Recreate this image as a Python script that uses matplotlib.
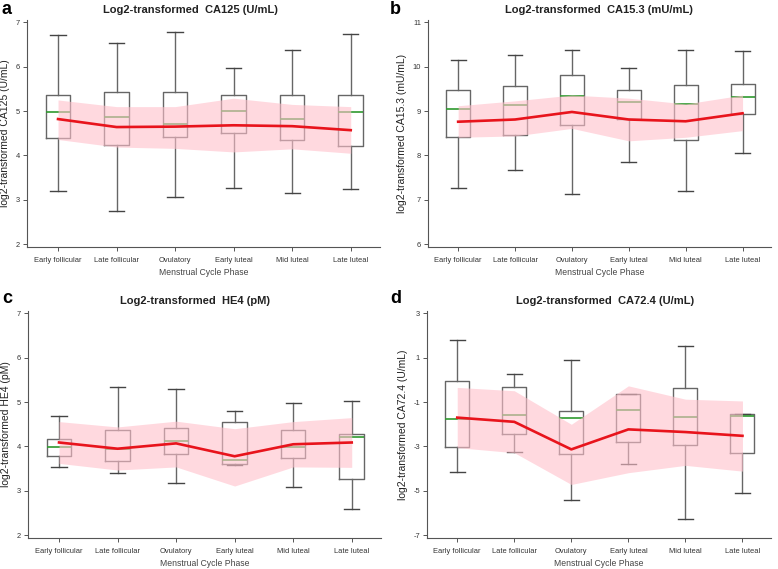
import matplotlib
matplotlib.use("Agg")
import matplotlib.pyplot as plt

plt.rcParams["font.family"] = ["Liberation Sans", "DejaVu Sans"]
plt.rcParams["axes.unicode_minus"] = False

phases = ["Early follicular", "Late follicular", "Ovulatory",
          "Early luteal", "Mid luteal", "Late luteal"]

# CA125 (U/mL)
ca125_lo = [3.19, 2.76, 3.06, 3.27, 3.15, 3.25]
ca125_q1 = [4.39, 4.24, 4.41, 4.50, 4.34, 4.21]
ca125_med = [4.99, 4.86, 4.71, 5.00, 4.83, 4.99]
ca125_q3 = [5.36, 5.43, 5.43, 5.37, 5.36, 5.37]
ca125_hi = [6.72, 6.54, 6.78, 5.97, 6.38, 6.73]
ca125_mean = [4.82, 4.64, 4.65, 4.68, 4.66, 4.57]
ca125_band_lo = [4.36, 4.19, 4.16, 4.08, 4.15, 4.05]
ca125_band_hi = [5.25, 5.10, 5.10, 5.29, 5.15, 5.10]

# CA15.3 (mU/mL)
ca153_lo = [7.27, 7.67, 7.14, 7.86, 7.19, 8.05]
ca153_q1 = [8.41, 8.45, 8.68, 8.82, 8.35, 8.93]
ca153_med = [9.05, 9.14, 9.35, 9.21, 9.16, 9.31]
ca153_q3 = [9.47, 9.57, 9.82, 9.48, 9.59, 9.62]
ca153_hi = [10.14, 10.26, 10.38, 9.98, 10.38, 10.36]
ca153_mean = [8.76, 8.81, 8.98, 8.81, 8.77, 8.95]
ca153_band_lo = [8.41, 8.44, 8.61, 8.33, 8.41, 8.56]
ca153_band_hi = [9.12, 9.23, 9.36, 9.29, 9.16, 9.36]

# HE4 (pM)
he4_lo = [3.54, 3.41, 3.18, 3.58, 3.08, 2.59]
he4_q1 = [3.78, 3.68, 3.83, 3.60, 3.75, 3.26]
he4_med = [3.98, 3.95, 4.12, 3.69, 3.98, 4.22]
he4_q3 = [4.17, 4.38, 4.42, 4.56, 4.37, 4.29]
he4_hi = [4.68, 5.33, 5.29, 4.80, 4.98, 5.02]
he4_mean = [4.09, 3.95, 4.07, 3.78, 4.05, 4.09]
he4_band_lo = [3.62, 3.47, 3.54, 3.11, 3.54, 3.53]
he4_band_hi = [4.56, 4.44, 4.57, 4.40, 4.56, 4.65]

# CA72.4 (U/mL)
ca724_lo = [-4.15, -3.25, -5.42, -3.78, -6.25, -5.09]
ca724_q1 = [-3.01, -2.45, -3.33, -2.80, -2.93, -3.31]
ca724_med = [-1.74, -1.59, -1.73, -1.37, -1.65, -1.63]
ca724_q3 = [-0.07, -0.30, -1.40, -0.64, -0.37, -1.55]
ca724_hi = [1.81, 0.26, 0.89, -0.64, 1.51, -1.55]
ca724_mean = [-1.70, -1.89, -3.13, -2.23, -2.35, -2.52]
ca724_band_lo = [-3.05, -3.28, -4.71, -4.18, -3.85, -4.11]
ca724_band_hi = [-0.34, -0.49, -2.00, -0.27, -0.87, -0.95]

panels = [
    ("a", "Log2-transformed  CA125 (U/mL)", "log2-transformed CA125 (U/mL)",
     ca125_lo, ca125_q1, ca125_med, ca125_q3, ca125_hi, ca125_mean,
     ca125_band_lo, ca125_band_hi, (1.94, 7.05), [2, 3, 4, 5, 6, 7]),
    ("b", "Log2-transformed  CA15.3 (mU/mL)", "log2-transformed CA15.3 (mU/mL)",
     ca153_lo, ca153_q1, ca153_med, ca153_q3, ca153_hi, ca153_mean,
     ca153_band_lo, ca153_band_hi, (5.94, 11.05), [6, 7, 8, 9, 10, 11]),
    ("c", "Log2-transformed  HE4 (pM)", "log2-transformed HE4 (pM)",
     he4_lo, he4_q1, he4_med, he4_q3, he4_hi, he4_mean,
     he4_band_lo, he4_band_hi, (1.94, 7.05), [2, 3, 4, 5, 6, 7]),
    ("d", "Log2-transformed  CA72.4 (U/mL)", "log2-transformed CA72.4 (U/mL)",
     ca724_lo, ca724_q1, ca724_med, ca724_q3, ca724_hi, ca724_mean,
     ca724_band_lo, ca724_band_hi, (-7.12, 3.1), [-7, -5, -3, -1, 1, 3]),
]

W, H = 778, 569
fig = plt.figure(figsize=(W / 100, H / 100), dpi=100)

# axes rectangles in pixels: left, top(spine top), right, bottom(spine)
rects = [(27, 20, 380, 247), (428, 20, 771, 247),
         (28, 311, 381, 538), (427, 311, 771, 538)]
letter_pos = [(2, 1), (390, 1), (2, 290), (390, 290)]
title_x = [0.462, 0.498, 0.473, 0.517]

box_col = "#666666"
x = list(range(len(phases)))

for (letter, title, ylabel, lo, q1, med, q3, hi, mean, blo, bhi, ylim, yt), r, lp, tx in zip(panels, rects, letter_pos, title_x):
    l, t, rr, b = r
    ax = fig.add_axes([l / W, (H - b) / H, (rr - l) / W, (b - t) / H])
    stats = []
    for i in range(len(phases)):
        stats.append(dict(med=med[i], q1=q1[i], q3=q3[i],
                          whislo=lo[i], whishi=hi[i], fliers=[]))
    ax.bxp(stats, positions=x, widths=0.42, showfliers=False,
           boxprops=dict(color=box_col, linewidth=1.0),
           whiskerprops=dict(color=box_col, linewidth=1.0),
           capprops=dict(color="#444444", linewidth=1.0),
           medianprops=dict(color="#2f9a2f", linewidth=1.2),
           capwidths=0.26, manage_ticks=False, zorder=2)
    ax.fill_between(x, blo, bhi, color="#ffc0cb", alpha=0.6,
                    linewidth=0, zorder=3)
    ax.plot(x, mean, color="#e8141c", linewidth=1.9, zorder=4)

    ax.set_xlim(-0.53, 5.5)
    ax.set_ylim(*ylim)
    ax.set_yticks(yt)
    ax.set_xticks(x)
    ax.set_xticklabels(phases)
    for s in ["top", "right"]:
        ax.spines[s].set_visible(False)
    for s in ["left", "bottom"]:
        ax.spines[s].set_color("#555555")
        ax.spines[s].set_linewidth(0.8)
    ax.tick_params(axis="both", labelsize=5.4, colors="#555555",
                   labelcolor="#333333", length=3, width=0.7, pad=2)
    ax.tick_params(axis="x", pad=4)
    ax.set_xlabel("Menstrual Cycle Phase", fontsize=6.2, color="#444444",
                  labelpad=3)
    ax.set_ylabel(ylabel, fontsize=7.5, color="#222222", labelpad=4)
    ax.set_title(title, fontsize=8, fontweight="bold", color="#222222",
                 pad=5, x=tx)
    fig.text(lp[0] / W, (H - lp[1]) / H, letter, fontsize=13,
             fontweight="bold", va="top", ha="left", color="black")

fig.savefig("out.png", dpi=100)
